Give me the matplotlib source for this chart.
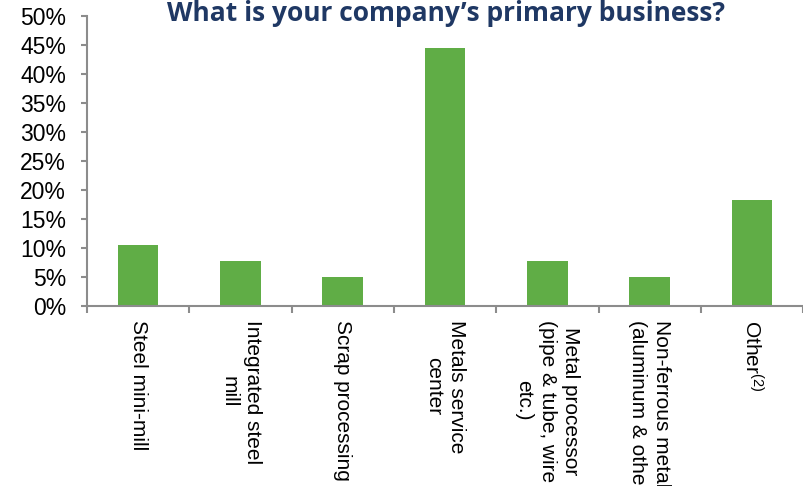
import matplotlib
matplotlib.use("Agg")
import matplotlib.pyplot as plt
import numpy as np

plt.rcParams["font.family"] = ["Liberation Sans", "DejaVu Sans"]
plt.rcParams["mathtext.fontset"] = "custom"
plt.rcParams["mathtext.rm"] = "Liberation Sans"
plt.rcParams["mathtext.default"] = "rm"

categories = [
    "Steel mini-mill",
    "Integrated steel\nmill",
    "Scrap processing",
    "Metals service\ncenter",
    "Metal processor\n(pipe & tube, wire\netc.)",
    "Non-ferrous metals\n(aluminum & other)",
    r"Other$^{(2)}$",
]
shares = [10.5, 7.7, 5.0, 44.4, 7.7, 5.0, 18.3]
y_ticks = [0, 5, 10, 15, 20, 25, 30, 35, 40, 45, 50]
y_tick_labels = [f"{v}%" for v in y_ticks]
title = "What is your company\u2019s primary business?"

bar_color = "#60AD46"
axis_color = "#8C8C8C"

fig = plt.figure(figsize=(8.04, 4.86), dpi=100)
ax = fig.add_axes([0.108, 0.371, 0.891, 0.597])

x = np.arange(len(categories))
ax.bar(x, shares, width=0.4, color=bar_color, zorder=2)

ax.set_xlim(-0.5, len(categories) - 0.5)
ax.set_ylim(0, 50)

ax.set_yticks(y_ticks)
ax.set_yticklabels(y_tick_labels, fontsize=16.5)
ax.tick_params(axis="y", direction="out", length=4, width=1.5,
               color=axis_color, pad=11)

ax.set_xticks(x)
ax.set_xticklabels(categories, rotation=270, fontsize=15,
                   ha="center", va="top", multialignment="center",
                   linespacing=1.3)
ax.tick_params(axis="x", which="major", length=0, pad=10)
ax.set_xticks(np.arange(-0.5, len(categories)), minor=True)
ax.tick_params(axis="x", which="minor", direction="out", length=5,
               width=1.5, color=axis_color)

for side in ("top", "right"):
    ax.spines[side].set_visible(False)
for side in ("left", "bottom"):
    ax.spines[side].set_color(axis_color)
    ax.spines[side].set_linewidth(1.5)

fig.text(0.555, 1.0, title, ha="center", va="top",
         fontsize=19, fontweight="bold", color="#1F3864",
         family=["Open Sans", "DejaVu Sans"])

fig.savefig("out.png", dpi=100)
